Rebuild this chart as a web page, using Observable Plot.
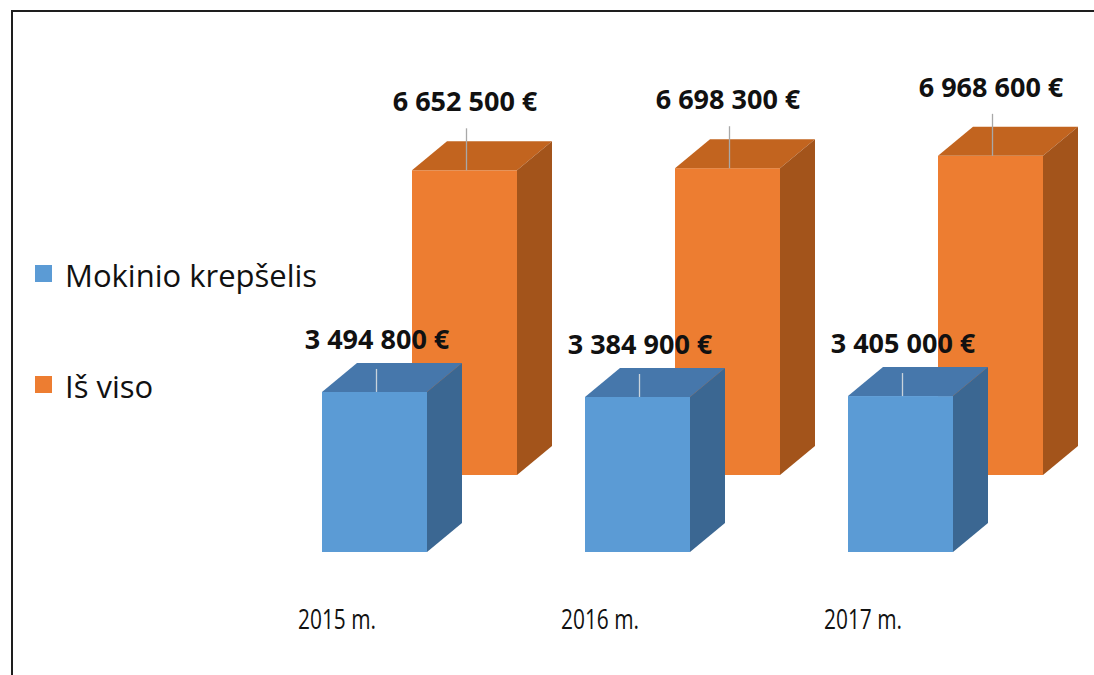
<!DOCTYPE html>
<html>
<head>
<meta charset="utf-8">
<script src="https://cdn.jsdelivr.net/npm/d3@7"></script>
<script src="https://cdn.jsdelivr.net/npm/@observablehq/plot@0.6"></script>
<style>
  html, body { margin: 0; padding: 0; background: #fff; }
  #wrap { position: relative; width: 1094px; height: 675px; overflow: hidden; }
  #frame { position: absolute; left: 11px; top: 10px; right: -10px; bottom: -10px;
           border-top: 2px solid #1e1e1e; border-left: 2px solid #1e1e1e; }
  #chart { position: absolute; left: 0; top: 0; }
  #legend { position: absolute; left: 0; top: 0; }
</style>
</head>
<body>
<div id="wrap">
  <div id="frame"></div>
  <div id="chart"></div>
  <svg id="legend" width="340" height="440"></svg>
</div>
<script>
// ---- data ----
const years = ["2015 m.", "2016 m.", "2017 m."];
const mokinioKrepselis = [3494800, 3384900, 3405000];
const isViso = [6652500, 6698300, 6968600];
const seriesNames = ["Mokinio krepšelis", "Iš viso"];

// ---- styles ----
const colors = {
  blue: {front: "#5b9bd5", top: "#4677ab", side: "#3b6792"},
  orange: {front: "#ed7d31", top: "#c2641f", side: "#a3541b"}
};
const depth = {dx: 35, dy: -29};      // 3D box depth in pixels
const backShift = {dx: 90, dy: -77};  // "Iš viso" series row behind
const fmt = v => d3.format(",")(v).replace(/,/g, " ") + " €";

const blueData = years.map((y, i) => ({year: y, value: mokinioKrepselis[i]}));
const orangeData = years.map((y, i) => ({year: y, value: isViso[i]}));

function faces(data, col, shift) {
  return (index, scales) => {
    const x = scales.x, y = scales.y;
    const bw = typeof x.bandwidth === "function" ? x.bandwidth() : 105;
    const g = d3.create("svg:g");
    for (const d of data) {
      const x0 = x(d.year) + shift.dx, x1 = x0 + bw;
      const yt = y(d.value) + shift.dy, yb = y(0) + shift.dy;
      g.append("path")
        .attr("d", `M${x0},${yt}L${x0 + depth.dx},${yt + depth.dy}L${x1 + depth.dx},${yt + depth.dy}L${x1},${yt}Z`)
        .attr("fill", col.top);
      g.append("path")
        .attr("d", `M${x1},${yt}L${x1 + depth.dx},${yt + depth.dy}L${x1 + depth.dx},${yb + depth.dy}L${x1},${yb}Z`)
        .attr("fill", col.side);
    }
    return g.node();
  };
}

function leaders(data, shift, len, stroke) {
  return (index, scales) => {
    const x = scales.x, y = scales.y;
    const bw = typeof x.bandwidth === "function" ? x.bandwidth() : 105;
    const g = d3.create("svg:g").attr("stroke", stroke).attr("stroke-width", 1.3);
    for (const d of data) {
      const cx = x(d.year) + shift.dx + bw / 2 + 2;
      const yt = y(d.value) + shift.dy;
      g.append("line").attr("x1", cx).attr("x2", cx).attr("y1", yt - len).attr("y2", yt);
    }
    return g.node();
  };
}

const chart = Plot.plot({
  width: 1094,
  height: 675,
  marginTop: 0, marginRight: 0, marginBottom: 0, marginLeft: 0,
  style: {fontFamily: "'Open Sans', sans-serif", background: "transparent", overflow: "visible"},
  x: {type: "band", domain: years, range: [243, 1032], paddingInner: 0.6, paddingOuter: 0.3, axis: null},
  y: {domain: [0, 8000000], range: [552, 552 - 8 * 45.8], axis: null},
  marks: [
    Plot.barY(orangeData, {x: "year", y: "value", fill: colors.orange.front, dx: backShift.dx, dy: backShift.dy}),
    faces(orangeData, colors.orange, backShift),
    Plot.barY(blueData, {x: "year", y: "value", fill: colors.blue.front}),
    faces(blueData, colors.blue, {dx: 0, dy: 0}),
    leaders(orangeData, backShift, 42, "#a8a8a8"),
    leaders(blueData, {dx: 0, dy: 0}, 23, "#c9d3dc"),
    Plot.text(orangeData, {x: "year", y: "value", text: d => fmt(d.value), dx: backShift.dx, dy: backShift.dy - 68,
      fontSize: 27, fontWeight: "bold", fill: "#111"}),
    Plot.text(blueData, {x: "year", y: "value", text: d => fmt(d.value), dx: 2, dy: -52,
      fontSize: 27, fontWeight: "bold", fill: "#111"}),
    Plot.text(years, {x: d => d, y: () => 0, text: d => d, dx: -38, dy: 68, fontSize: 28, fill: "#111"})
  ]
});
document.getElementById("chart").appendChild(chart);

// condensed look for the category labels (Calibri-like)
chart.querySelectorAll("text").forEach(t => {
  if (years.includes(t.textContent)) {
    t.setAttribute("textLength", 78);
    t.setAttribute("lengthAdjust", "spacingAndGlyphs");
  }
});

// ---- legend ----
const legend = d3.select("#legend");
const legendItems = [
  {name: seriesNames[0], color: colors.blue.front},
  {name: seriesNames[1], color: colors.orange.front}
];
legendItems.forEach((it, i) => {
  const base = 287 + i * 111;
  legend.append("rect").attr("x", 35).attr("y", base - 22).attr("width", 17).attr("height", 17).attr("fill", it.color);
  legend.append("text").attr("x", 65).attr("y", base).text(it.name)
    .attr("font-family", "'Open Sans', sans-serif").attr("font-size", 31).attr("fill", "#111");
});
</script>
</body>
</html>
